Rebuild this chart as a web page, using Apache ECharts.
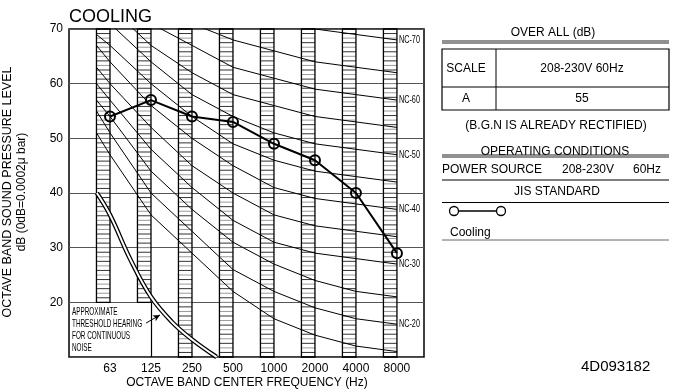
<!DOCTYPE html>
<html><head><meta charset="utf-8">
<script src="https://cdn.jsdelivr.net/npm/echarts@6/dist/echarts.min.js"></script>
<style>html,body{margin:0;padding:0;background:#fff}#c{width:674px;height:392px}</style>
</head><body><div id="c"></div>
<script>
// ---------- data ----------
const freqLabels = ['63', '125', '250', '500', '1000', '2000', '4000', '8000'];
const freqIndex = [1, 2, 3, 4, 5, 6, 7, 8];
const cooling = [54, 57, 54, 53, 49, 46, 40, 29];
const yTicks = [20, 30, 40, 50, 60, 70];
const columnBottom = [20, 20, 10, 10, 10, 10, 10, 10];
const ncNames = ['NC-15', 'NC-20', 'NC-25', 'NC-30', 'NC-35', 'NC-40', 'NC-45', 'NC-50', 'NC-55', 'NC-60', 'NC-65', 'NC-70'];
const ncLabelled = ['NC-20', 'NC-30', 'NC-40', 'NC-50', 'NC-60', 'NC-70'];
const nc15 = [47, 36, 29, 22, 17, 14, 12, 11];
const nc20 = [51, 40, 33, 26, 22, 19, 17, 16];
const nc25 = [54, 44, 37, 31, 27, 24, 22, 21];
const nc30 = [57, 48, 41, 35, 31, 29, 28, 27];
const nc35 = [60, 52, 45, 40, 36, 34, 33, 32];
const nc40 = [64, 56, 50, 45, 41, 39, 38, 37];
const nc45 = [67, 60, 54, 49, 46, 44, 43, 42];
const nc50 = [71, 64, 58, 54, 51, 49, 48, 47];
const nc55 = [74, 67, 62, 58, 56, 54, 53, 52];
const nc60 = [77, 71, 67, 63, 61, 59, 58, 57];
const nc65 = [80, 75, 71, 68, 66, 64, 63, 62];
const nc70 = [83, 79, 75, 72, 71, 70, 69, 68];
// value of each NC curve where it starts (left edge of the 63 Hz band)
const ncStart = [51, 55, 57, 60, 63, 67, 69, 73, 76, 79, 82, 84];
// threshold of hearing curve: [band position, dB]
const thresholdX = [0.68, 1, 1.5, 2, 2.5, 3, 3.6];
const thresholdDb = [40, 36, 27.8, 21, 16.5, 13.2, 10];

const ncTable = [nc15, nc20, nc25, nc30, nc35, nc40, nc45, nc50, nc55, nc60, nc65, nc70];
const bandWidth = 0.33;
const FONT = 'Liberation Sans, Arial, sans-serif';

const chart = echarts.init(document.getElementById('c'), null, {renderer: 'canvas'});

const ncSeries = ncTable.map((vals, i) => ({
  type: 'line', name: ncNames[i], silent: true, animation: false,
  data: [[1 - bandWidth, ncStart[i]]].concat(vals.map((v, j) => [freqIndex[j], v])),
  symbol: 'none', lineStyle: {color: '#000', width: 1}, z: 3, clip: true
}));

const thrData = thresholdX.map((x, i) => [x, thresholdDb[i]]);

const option = {
  animation: false,
  backgroundColor: '#fff',
  grid: {left: 69, top: 29, width: 355, height: 328, show: true, borderColor: '#000', borderWidth: 1.5, backgroundColor: 'transparent'},
  xAxis: {
    type: 'value', min: 0, max: 8.66, interval: 1,
    axisLine: {show: false}, axisTick: {show: false}, splitLine: {show: false},
    axisLabel: {color: '#000', fontSize: 12, fontFamily: FONT, margin: 6,
      formatter: v => (Number.isInteger(v) && v >= 1 && v <= 8) ? freqLabels[v - 1] : ''}
  },
  yAxis: {
    type: 'value', min: 10, max: 70, interval: 10,
    axisLine: {show: false}, axisTick: {show: false},
    splitLine: {show: true, lineStyle: {color: '#555', width: 1}},
    axisLabel: {color: '#000', fontSize: 12, fontFamily: FONT, margin: 6,
      formatter: v => yTicks.indexOf(v) >= 0 ? String(v) : ''}
  },
  series: [
    {
      type: 'custom', silent: true, z: 2,
      data: freqIndex.map((f, i) => [f, columnBottom[i]]),
      encode: {x: 0, y: 1},
      renderItem: function (params, api) {
        const idx = api.value(0), bottom = api.value(1);
        const tl = api.coord([idx - bandWidth, 70]);
        const br = api.coord([idx, bottom]);
        const step = (api.coord([0, 10])[1] - api.coord([0, 20])[1]) / 12;
        const children = [];
        let k = 0;
        for (let y = tl[1] + step; y < br[1] - 1; y += step, k++) {
          children.push({type: 'line', shape: {x1: tl[0], y1: y, x2: br[0], y2: y},
            style: {stroke: k % 2 ? '#9a9a9a' : '#333', lineWidth: 1}});
        }
        children.push({type: 'rect', shape: {x: tl[0], y: tl[1], width: br[0] - tl[0], height: br[1] - tl[1]},
          style: {fill: 'none', stroke: '#000', lineWidth: 1.3}});
        return {type: 'group', children};
      }
    },
    ...ncSeries,
    {
      type: 'line', silent: true, data: thrData, symbol: 'none', smooth: 0.4, z: 4,
      lineStyle: {color: '#000', width: 4.5},
      markLine: {
        silent: true, symbol: ['none', 'none'], label: {show: false},
        lineStyle: {color: '#000', width: 1.2, type: 'solid'},
        data: [[{coord: [2, 20]}, {coord: [2, 10]}]]
      }
    },
    {
      type: 'line', silent: true, data: thrData, symbol: 'none', smooth: 0.4, z: 5,
      lineStyle: {color: '#fff', width: 2},
      markLine: {
        silent: true, symbol: ['none', 'arrow'], symbolSize: [5, 7], label: {show: false},
        lineStyle: {color: '#000', width: 1, type: 'solid'},
        data: [[{coord: [1.88, 16.2]}, {coord: [2.22, 17.7]}]]
      }
    },
    {
      type: 'line', name: 'Cooling', data: freqIndex.map((f, i) => [f, cooling[i]]), z: 10,
      symbol: 'circle', symbolSize: 10,
      lineStyle: {color: '#000', width: 2},
      itemStyle: {color: 'rgba(0,0,0,0)', borderColor: '#000', borderWidth: 2}
    }
  ]
};
chart.setOption(option);

// ---------- annotations (text) ----------
function T(x, y, text, opts) {
  opts = opts || {};
  return {type: 'text', x, y, rotation: opts.rotation || 0, scaleX: opts.scaleX || 1, z: 100,
    style: {text, fill: '#000', font: (opts.size || 12) + 'px ' + FONT,
      textAlign: opts.align || 'left', textVerticalAlign: 'middle'}};
}
function L(x1, y1, x2, y2, w, c) {
  return {type: 'line', z: 100, shape: {x1, y1, x2, y2}, style: {stroke: c || '#000', lineWidth: w || 1}};
}
const g = [];
g.push(T(69, 17, 'COOLING', {size: 18}));
g.push(T(8, 192, 'OCTAVE BAND SOUND PRESSURE LEVEL', {rotation: Math.PI / 2, align: 'center', size: 12.5}));
g.push(T(22, 192, 'dB (0dB=0.0002\u03bc bar)', {rotation: Math.PI / 2, align: 'center'}));
g.push(T(247, 383, 'OCTAVE BAND CENTER FREQUENCY (Hz)', {align: 'center'}));

// NC labels at the end of curves
ncTable.forEach((vals, i) => {
  if (ncLabelled.indexOf(ncNames[i]) < 0) return;
  const p = chart.convertToPixel({gridIndex: 0}, [8, vals[7]]);
  g.push(T(p[0] + 2, p[1], ncNames[i], {size: 11, scaleX: 0.66}));
});
// threshold text
['APPROXIMATE', 'THRESHOLD HEARING', 'FOR CONTINUOUS', 'NOISE'].forEach((s, i) => {
  g.push(T(72, 312 + i * 12, s, {size: 11, scaleX: 0.58}));
});

// right panel
g.push(T(553, 33, 'OVER ALL (dB)', {align: 'center'}));
g.push(L(442, 41, 669, 41, 1, '#222'));
g.push(L(442, 43, 669, 43, 1, '#222'));
g.push({type: 'rect', z: 100, shape: {x: 442, y: 49, width: 227, height: 61}, style: {fill: 'none', stroke: '#000', lineWidth: 1.2}});
g.push(L(442, 87, 669, 87, 1));
g.push(L(496, 49, 496, 110, 1));
g.push(T(466, 68.5, 'SCALE', {align: 'center'}));
g.push(T(582, 68.5, '208-230V 60Hz', {align: 'center'}));
g.push(T(466, 98.5, 'A', {align: 'center'}));
g.push(T(582, 98.5, '55', {align: 'center'}));
g.push(T(556, 126, '(B.G.N IS ALREADY RECTIFIED)', {align: 'center'}));
g.push(T(555, 151.5, 'OPERATING CONDITIONS', {align: 'center'}));
g.push(L(442, 155, 669, 155, 1, '#222'));
g.push(L(442, 157, 669, 157, 1, '#222'));
g.push(T(442, 170, 'POWER SOURCE'));
g.push(T(562, 170, '208-230V'));
g.push(T(633, 170, '60Hz'));
g.push(L(442, 180, 669, 180, 1));
g.push(T(557, 191.5, 'JIS STANDARD', {align: 'center'}));
g.push(L(442, 202.5, 669, 202.5, 1.2));
g.push(L(458.5, 211, 496.5, 211, 1.5));
g.push({type: 'circle', z: 100, shape: {cx: 454, cy: 211, r: 4.5}, style: {fill: '#fff', stroke: '#000', lineWidth: 1.3}});
g.push({type: 'circle', z: 100, shape: {cx: 501, cy: 211, r: 4.5}, style: {fill: '#fff', stroke: '#000', lineWidth: 1.3}});
g.push(T(450, 233, 'Cooling'));
g.push(L(442, 240, 669, 240, 1, '#666'));
g.push(T(581, 367, '4D093182', {size: 15}));

chart.setOption({graphic: {elements: g}});
</script>
</body></html>
